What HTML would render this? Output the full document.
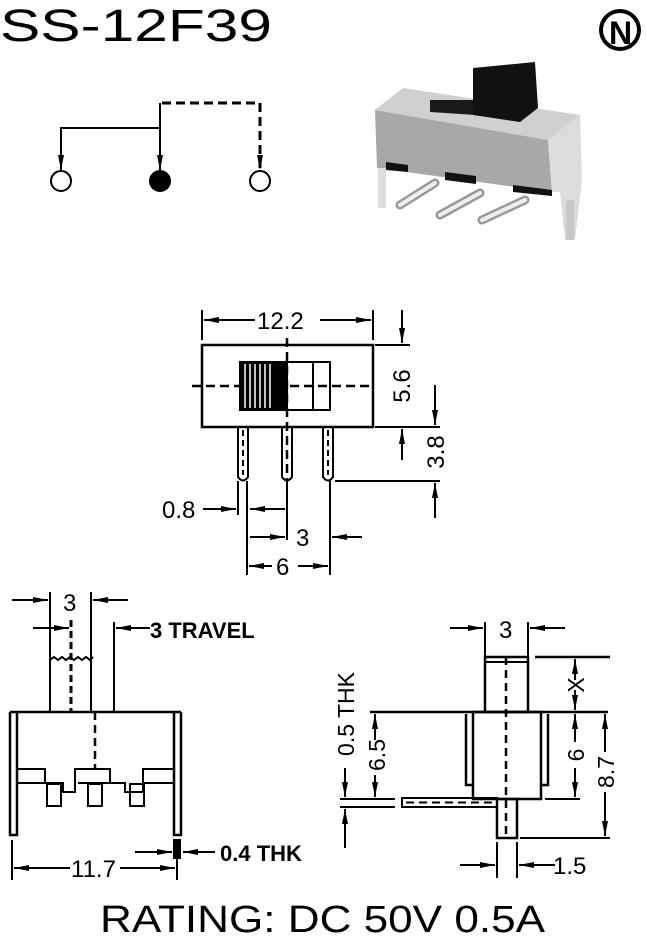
<!DOCTYPE html>
<html><head><meta charset="utf-8"><style>
html,body{margin:0;padding:0;background:#fff}
svg{display:block}
text{font-family:"Liberation Sans",Arial,sans-serif;fill:#000}
</style></head><body>
<svg width="646" height="938" viewBox="0 0 646 938" xmlns="http://www.w3.org/2000/svg">
<defs>
<marker id="a" markerUnits="userSpaceOnUse" markerWidth="16" markerHeight="8" refX="15" refY="4" orient="auto"><path d="M0,1 L15,4 L0,7 Z" fill="#000"/></marker>
</defs>
<g stroke="#000" fill="none" stroke-width="2">
<text x="0" y="41" font-size="45" textLength="272" lengthAdjust="spacingAndGlyphs" stroke="none">SS-12F39</text>
<circle cx="620" cy="30" r="21" fill="#000" stroke="none"/>
<circle cx="620" cy="30" r="17" fill="#fff" stroke="none"/>
<text x="609" y="44" font-size="32" font-weight="bold" font-family="Liberation Serif" stroke="none">N</text>
<circle cx="61" cy="181" r="10"/>
<circle cx="160" cy="181" r="10" fill="#000"/>
<circle cx="260" cy="181" r="10"/>
<path d="M160,128 H61 V170" marker-end="url(#a)"/>
<path d="M160,103 V170" marker-end="url(#a)"/>
<path d="M162,103 H260 V170" stroke-dasharray="9,5" stroke-width="3" marker-end="url(#a)"/>
<!-- photo -->
<g stroke="none">
<polygon points="375,110 403,88 580,115 548,140" fill="#d0d0d0"/>
<polygon points="375,110 548,140 552,192 377,168" fill="#a8a8a8"/>
<polygon points="548,140 580,115 582,180 575,240 565,240 560,192 552,192" fill="#dcdcdc"/>
<polygon points="430,100 476,100 476,115 430,112" fill="#1a1a1a"/>
<polygon points="473,68 535,62 538,108 520,122 473,115" fill="#111"/>
<polygon points="386,162 408,165 408,172 386,170" fill="#111"/>
<polygon points="445,172 476,176 476,184 445,180" fill="#111"/>
<polygon points="513,185 552,190 552,196 513,192" fill="#111"/>
<path d="M435,183 L400,205" stroke="#999" stroke-width="9" stroke-linecap="round"/>
<path d="M480,193 L440,215" stroke="#999" stroke-width="9" stroke-linecap="round"/>
<path d="M525,200 L482,220" stroke="#999" stroke-width="9" stroke-linecap="round"/>
<path d="M435,183 L400,205" stroke="#eee" stroke-width="4" stroke-linecap="round"/>
<path d="M480,193 L440,215" stroke="#eee" stroke-width="4" stroke-linecap="round"/>
<path d="M525,200 L482,220" stroke="#eee" stroke-width="4" stroke-linecap="round"/>
<rect x="378" y="168" width="8" height="40" fill="#ddd"/>
<rect x="566" y="200" width="8" height="40" fill="#c8c8c8"/>
</g>
<!-- top view -->
<rect x="202" y="345" width="171" height="82" stroke-width="2.5"/>
<path d="M192,386 H373" stroke-dasharray="9,5" stroke-width="2.5"/>
<path d="M287,338 V480" stroke-dasharray="9,5" stroke-width="2.5"/>
<rect x="240" y="362" width="47" height="48" fill="#000"/>
<path d="M245,364V408M250,364V408M255,364V408M260,364V408M265,364V408M270,364V408" stroke="#fff" stroke-width="1.5"/>
<rect x="287" y="362" width="43" height="48"/>
<path d="M313,362V410"/>
<path d="M238,427 V477 Q243,484 248,477 V427" />
<path d="M282,427 V477 Q287,484 292,477 V427" />
<path d="M323,427 V477 Q328,484 333,477 V427" />
<path d="M243,430V475M328,430V475" stroke-dasharray="6,4"/>
<path d="M202,310V340M373,310V340"/>
<path d="M255,320 H204" marker-end="url(#a)"/>
<path d="M320,320 H371" marker-end="url(#a)"/>
<text x="257" y="329" font-size="24" stroke="none">12.2</text>
<path d="M375,345H410M375,427H440M335,481H440"/>
<path d="M402,310 V343" marker-end="url(#a)"/>
<path d="M402,460 V429" marker-end="url(#a)"/>
<path d="M435,385 V425" marker-end="url(#a)"/>
<path d="M435,518 V483" marker-end="url(#a)"/>
<text transform="translate(410,386) rotate(-90)" text-anchor="middle" font-size="24" stroke="none">5.6</text>
<text transform="translate(444,452) rotate(-90)" text-anchor="middle" font-size="24" stroke="none">3.8</text>
<path d="M238,481V515M247,481V575M287,480V540M330,481V575"/>
<text x="162" y="518" font-size="24" stroke="none">0.8</text>
<path d="M203,509 H236" marker-end="url(#a)"/>
<path d="M285,509 H250" marker-end="url(#a)"/>
<path d="M250,537 H285" marker-end="url(#a)"/>
<path d="M362,537 H332" marker-end="url(#a)"/>
<text x="296" y="546" font-size="24" stroke="none">3</text>
<path d="M272,566 H249" marker-end="url(#a)"/>
<path d="M298,566 H328" marker-end="url(#a)"/>
<text x="276" y="575" font-size="24" stroke="none">6</text>
<!-- bottom-left view -->
<path d="M50,592V712M91,592V712M114,622V712"/>
<path d="M12,600 H48" marker-end="url(#a)"/>
<path d="M128,600 H93" marker-end="url(#a)"/>
<text x="63" y="611" font-size="24" stroke="none">3</text>
<path d="M33,628 H69" marker-end="url(#a)"/>
<path d="M71,620V712" stroke-dasharray="7,4" stroke-width="3"/>
<path d="M150,628 H116" marker-end="url(#a)"/>
<text x="150" y="638" font-size="22" font-weight="bold" stroke="none">3 TRAVEL</text>
<path d="M50,660 l4,-3 4,3 4,-3 4,3 4,-3 4,3 4,-3 4,3 4,-3 4,3 3,-3"/>
<path d="M10,712 H181" stroke-width="2.5"/>
<path d="M10,712V835H17V712M174,712V835H181V712" stroke-width="2.5"/>
<path d="M95,712V770" stroke-dasharray="8,5" stroke-width="2.5"/>
<path d="M17,769H45V783H63V792H75V769H110V783H125V792H143V769H174"/>
<path d="M17,783H45M78,783H110M143,783H174"/>
<rect x="47" y="784" width="14" height="22"/><rect x="88" y="784" width="14" height="22"/><rect x="130" y="784" width="14" height="22"/>
<rect x="174" y="840" width="6" height="18" fill="#000"/>
<path d="M135,852 H172" marker-end="url(#a)"/>
<path d="M215,852 H183" marker-end="url(#a)"/>
<text x="220" y="861" font-size="22" font-weight="bold" stroke="none">0.4 THK</text>
<path d="M12,840V880M177,858V880"/>
<path d="M70,868 H14" marker-end="url(#a)"/>
<path d="M120,868 H175" marker-end="url(#a)"/>
<text x="71" y="877" font-size="24" stroke="none">11.7</text>
<!-- bottom-right view -->
<path d="M485,622V657M528,622V657"/>
<path d="M450,628 H483" marker-end="url(#a)"/>
<path d="M565,628 H530" marker-end="url(#a)"/>
<text x="499" y="638" font-size="24" stroke="none">3</text>
<rect x="485" y="657" width="43" height="55" stroke-width="2.5"/>
<path d="M485,662H528"/>
<path d="M506,657V838" stroke-dasharray="8,5" stroke-width="2.5"/>
<path d="M370,712H545M545,712H608M535,657H610" stroke-width="2.5"/>
<rect x="473" y="712" width="68" height="87" stroke-width="2.5"/>
<path d="M466,714V785H473M548,714V785H541" stroke-width="2.5"/>
<rect x="402" y="798" width="95" height="9"/>
<path d="M406,802.5H495" stroke-dasharray="8,5"/>
<rect x="497" y="799" width="20" height="39" stroke-width="2.5"/>
<path d="M340,799H395M340,807H395M545,799H580M520,838H610"/>
<text transform="translate(354,714) rotate(-90)" text-anchor="middle" font-size="23" stroke="none">0.5 THK</text>
<path d="M345,768 V797" marker-end="url(#a)"/>
<path d="M345,848 V809" marker-end="url(#a)"/>
<text transform="translate(385,755) rotate(-90)" text-anchor="middle" font-size="23" stroke="none">6.5</text>
<path d="M375,740 V714" marker-end="url(#a)"/>
<path d="M375,775 V797" marker-end="url(#a)"/>
<path d="M575,680 V659" marker-end="url(#a)"/>
<path d="M575,690 V710" marker-end="url(#a)"/>
<text transform="translate(584,685) rotate(-90)" text-anchor="middle" font-size="23" stroke="none">X</text>
<path d="M575,742 V714" marker-end="url(#a)"/>
<path d="M575,768 V797" marker-end="url(#a)"/>
<text transform="translate(584,755) rotate(-90)" text-anchor="middle" font-size="23" stroke="none">6</text>
<path d="M605,752 V714" marker-end="url(#a)"/>
<path d="M605,792 V836" marker-end="url(#a)"/>
<text transform="translate(614,772) rotate(-90)" text-anchor="middle" font-size="23" stroke="none">8.7</text>
<path d="M497,842V878M517,842V878"/>
<path d="M460,865 H495" marker-end="url(#a)"/>
<path d="M555,865 H519" marker-end="url(#a)"/>
<text x="553" y="874" font-size="24" stroke="none">1.5</text>
<text x="100" y="932" font-size="38" textLength="445" lengthAdjust="spacingAndGlyphs" stroke="none">RATING: DC 50V 0.5A</text>
</g>
</svg>
</body></html>
